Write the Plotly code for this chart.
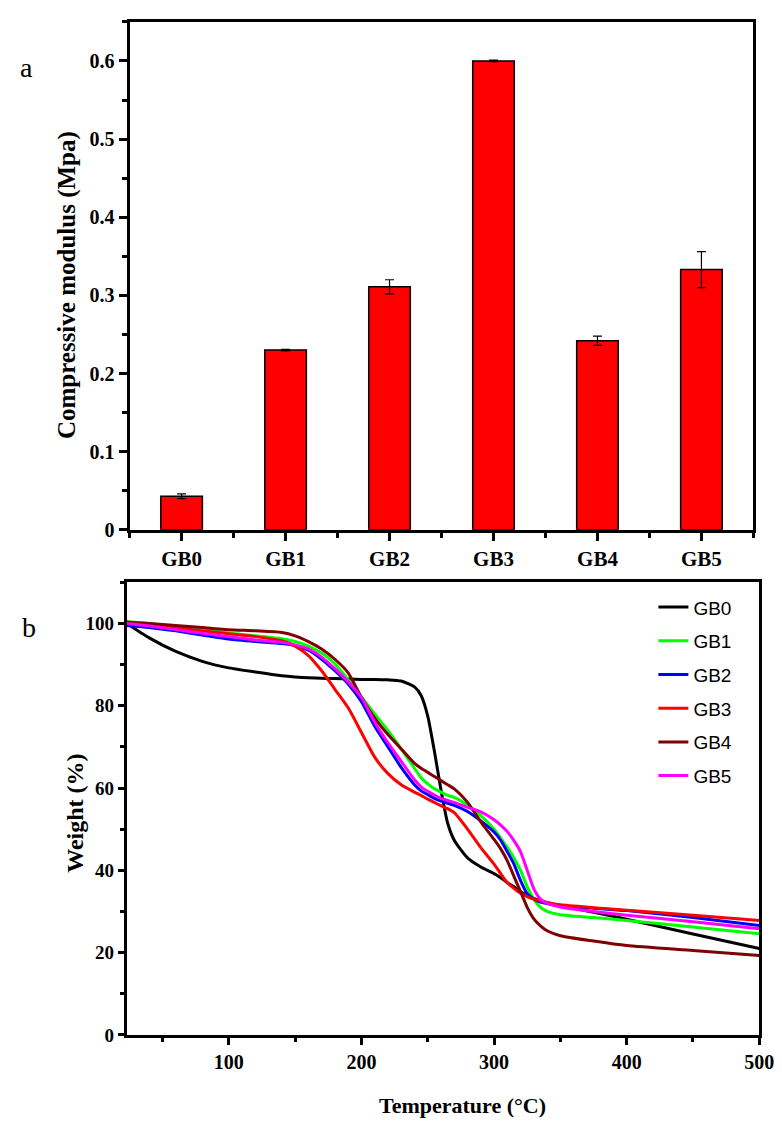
import plotly.graph_objects as go

# ---------------- Panel a: compressive modulus ----------------
categories = ["GB0", "GB1", "GB2", "GB3", "GB4", "GB5"]
modulus = [0.043, 0.230, 0.311, 0.600, 0.242, 0.333]
modulus_err = [0.003, 0.001, 0.009, 0.001, 0.006, 0.023]
mod_ticks = [0, 0.1, 0.2, 0.3, 0.4, 0.5, 0.6]
mod_ticktext = ["0", "0.1", "0.2", "0.3", "0.4", "0.5", "0.6"]

# ---------------- Panel b: TGA curves ----------------
temperature = [23, 40, 60, 80, 100, 120, 140, 150, 160, 170, 180, 190, 200, 210, 220,
               230, 240, 245, 250, 255, 260, 265, 270, 280, 290, 300, 305, 310, 315,
               320, 325, 330, 335, 340, 350, 375, 400, 450, 500]
wt_gb0 = [100, 96.5, 93.2, 90.8, 89.2, 88.2, 87.3, 87.0, 86.8, 86.7, 86.6, 86.5, 86.4, 86.4, 86.3,
          86.0, 84.6, 82.5, 77.5, 69.0, 59.5, 51.5, 47.3, 43.0, 40.8, 39.2, 38.2, 37.0, 36.0,
          34.8, 33.9, 33.2, 32.6, 32.1, 31.4, 29.8, 28.1, 24.5, 21.0]
wt_gb1 = [100.5, 100.0, 99.3, 98.5, 97.7, 97.0, 96.3, 95.6, 94.5, 92.8, 90.2, 86.3, 82.2, 78.0, 74.0,
          69.5, 64.8, 62.5, 61.0, 59.8, 59.0, 58.2, 57.7, 55.8, 53.3, 50.0, 47.8, 45.5, 43.0,
          40.0, 36.0, 33.0, 31.0, 30.0, 29.2, 28.5, 27.8, 26.2, 24.6]
wt_gb2 = [99.5, 99.0, 98.2, 97.2, 96.2, 95.6, 95.1, 94.6, 93.5, 91.3, 88.5, 85.3, 81.0, 75.0, 70.0,
          65.0, 60.8, 59.3, 58.4, 57.5, 56.8, 56.3, 55.8, 54.3, 52.0, 49.3, 47.3, 44.5, 41.5,
          37.5, 34.3, 33.0, 32.3, 31.9, 31.4, 30.8, 30.2, 28.5, 26.6]
wt_gb3 = [100.3, 99.8, 99.0, 98.2, 97.5, 96.8, 95.8, 94.5, 92.2, 88.5, 84.0, 79.5, 73.5, 67.5, 63.5,
          60.8, 59.0, 58.2, 57.3, 56.5, 55.7, 55.0, 54.0, 50.0, 45.5, 41.5, 39.2, 37.0, 35.6,
          34.4, 33.6, 33.0, 32.6, 32.2, 31.6, 30.9, 30.3, 29.1, 27.8]
wt_gb4 = [100.3, 100.0, 99.5, 99.0, 98.5, 98.2, 97.8, 97.0, 95.6, 93.8, 91.3, 88.0, 82.0, 77.0, 73.0,
          69.5, 66.0, 64.8, 63.8, 62.8, 61.8, 60.8, 59.8, 56.5, 51.8, 47.5, 45.2, 42.3, 38.5,
          34.8, 31.0, 28.2, 26.5, 25.3, 24.1, 22.8, 21.7, 20.5, 19.3]
wt_gb5 = [100.0, 99.4, 98.5, 97.6, 96.8, 96.0, 95.4, 94.8, 93.8, 91.8, 89.0, 85.8, 82.0, 76.0, 71.0,
          66.5, 62.0, 60.3, 59.2, 58.3, 57.5, 57.0, 56.5, 55.3, 54.2, 52.3, 51.0, 49.4, 47.2,
          44.5, 40.0, 35.5, 33.0, 32.0, 31.1, 30.0, 29.1, 27.5, 25.8]
series_names = ["GB0", "GB1", "GB2", "GB3", "GB4", "GB5"]
series_values = [wt_gb0, wt_gb1, wt_gb2, wt_gb3, wt_gb4, wt_gb5]
series_colors = ["#000000", "#00FF00", "#0000FF", "#FF0000", "#800000", "#FF00FF"]
temp_ticks = [100, 200, 300, 400, 500]
wt_ticks = [0, 20, 40, 60, 80, 100]

W, H = 782, 1124
serif = "Liberation Serif"

fig = go.Figure()

fig.add_trace(go.Bar(
    x=list(range(len(categories))), y=modulus, width=0.4,
    marker=dict(color="#FF0000", line=dict(color="#000000", width=1.5)),
    error_y=dict(type="data", array=modulus_err, color="#000000", thickness=1.2, width=4.5),
    xaxis="x", yaxis="y", showlegend=False,
))

for name, vals, col in zip(series_names, series_values, series_colors):
    fig.add_trace(go.Scatter(
        x=temperature, y=vals, mode="lines", name=name,
        line=dict(color=col, width=3, shape="spline", smoothing=0.6),
        xaxis="x2", yaxis="y2", legendgroup=name,
    ))

tickfont_bold = lambda s: dict(family=serif, size=s, color="#000000", weight="bold")

fig.update_layout(
    width=W, height=H,
    margin=dict(l=0, r=0, t=0, b=0),
    paper_bgcolor="white", plot_bgcolor="white",
    xaxis=dict(
        domain=[124 / W, 760 / W], anchor="y", range=[-0.5, 5.5],
        tickvals=list(range(len(categories))), ticktext=categories,
        ticks="outside", ticklen=8, tickwidth=3, tickcolor="#000000",
        minor=dict(tick0=0.5, dtick=1, ticks="outside", ticklen=5, tickwidth=3, tickcolor="#000000"),
        showline=True, linewidth=3, linecolor="#000000", mirror=True,
        showgrid=False, zeroline=False, tickfont=tickfont_bold(21),
    ),
    yaxis=dict(
        domain=[1 - 527 / H, 1 - 14 / H], anchor="x", range=[0, 0.65],
        tickvals=mod_ticks, ticktext=mod_ticktext,
        ticks="outside", ticklen=8, tickwidth=3, tickcolor="#000000",
        minor=dict(dtick=0.05, ticks="outside", ticklen=5, tickwidth=3, tickcolor="#000000"),
        showline=True, linewidth=3, linecolor="#000000", mirror=True,
        showgrid=False, zeroline=False, tickfont=tickfont_bold(20),
    ),
    xaxis2=dict(
        domain=[121 / W, 766 / W], anchor="y2", range=[23, 500],
        tickvals=temp_ticks,
        ticks="outside", ticklen=7, tickwidth=2.5, tickcolor="#000000",
        minor=dict(tick0=0, dtick=50, ticks="outside", ticklen=4, tickwidth=2.5, tickcolor="#000000"),
        showline=True, linewidth=3, linecolor="#000000", mirror=True,
        showgrid=False, zeroline=False, tickfont=tickfont_bold(20),
    ),
    yaxis2=dict(
        domain=[1 - 1037 / H, 1 - 580 / H], anchor="x2", range=[0, 110],
        tickvals=wt_ticks,
        ticks="outside", ticklen=6, tickwidth=2.5, tickcolor="#000000",
        minor=dict(tick0=0, dtick=10, ticks="outside", ticklen=4, tickwidth=2.5, tickcolor="#000000"),
        showline=True, linewidth=3, linecolor="#000000", mirror=True,
        showgrid=False, zeroline=False, tickfont=tickfont_bold(19),
    ),
    legend=dict(
        x=658 / W, y=1 - 586 / H, xanchor="left", yanchor="top",
        bgcolor="rgba(0,0,0,0)", borderwidth=0,
        font=dict(family="Liberation Sans", size=19, color="#000000"),
        traceorder="grouped", tracegroupgap=6,
    ),
    annotations=[
        dict(text="Compressive modulus (Mpa)", x=60 / W, y=1 - 280 / H, xref="paper", yref="paper",
             textangle=-90, showarrow=False, xanchor="center", yanchor="middle",
             font=dict(family=serif, size=25, color="#000000", weight="bold")),
        dict(text="Weight (%)", x=68 / W, y=1 - 813 / H, xref="paper", yref="paper",
             textangle=-90, showarrow=False, xanchor="center", yanchor="middle",
             font=dict(family=serif, size=24, color="#000000", weight="bold")),
        dict(text="Temperature (°C)", x=463 / W, y=1 - 1108 / H, xref="paper", yref="paper",
             showarrow=False, xanchor="center", yanchor="middle",
             font=dict(family=serif, size=22, color="#000000", weight="bold")),
        dict(text="a", x=19 / W, y=1 - 60 / H, xref="paper", yref="paper",
             showarrow=False, xanchor="center", yanchor="middle",
             font=dict(family=serif, size=28, color="#000000")),
        dict(text="b", x=21 / W, y=1 - 626 / H, xref="paper", yref="paper",
             showarrow=False, xanchor="center", yanchor="middle",
             font=dict(family=serif, size=28, color="#000000")),
    ],
)

fig.write_html("out.html")
